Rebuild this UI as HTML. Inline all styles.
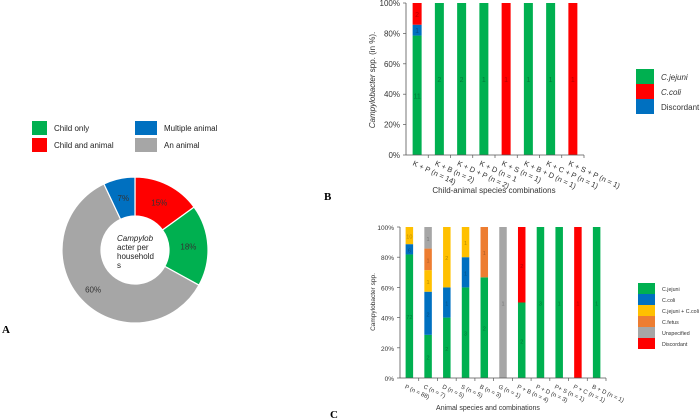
<!DOCTYPE html>
<html><head><meta charset="utf-8">
<style>
html,body{margin:0;padding:0;background:#fff;}
svg{display:block;font-family:"Liberation Sans",Arial,sans-serif;}
.lab{font-family:"Liberation Serif",serif;font-weight:bold;font-size:11px;}
</style></head>
<body>
<svg id="root" width="700" height="419" viewBox="0 0 700 419">
  <text class="lab" x="2" y="333">A</text>
  <text class="lab" x="324" y="200">B</text>
  <text class="lab" x="330" y="418">C</text>
  <g id="pie"></g>
  <g id="chartB"></g>
  <g id="chartC"></g>
</svg>
<script>
const NS="http://www.w3.org/2000/svg";
function mk(p,tag,attrs,txt){const e=document.createElementNS(NS,tag);for(const k in attrs)e.setAttribute(k,attrs[k]);if(txt!==undefined)e.textContent=txt;p.appendChild(e);return e;}

// ---------- Donut data ----------
const pieLabels=["Child and animal","Child only","An animal","Multiple animal"];
const pieValues=[15,18,60,7];
const pieColors=["#ff0000","#00b050","#a6a6a6","#0070c0"];

// ---------- Chart B data ----------
const bCategories=["K + P (n = 14)","K + B (n = 2)","K + D + P (n = 2)","K + D (n = 1","K + S (n = 1)","K + B + D (n = 1)","K + C + P (n = 1)","K + S + P (n = 1)"];
const bJejuni=[11,2,2,1,0,1,1,0];
const bDiscordant=[1,0,0,0,0,0,0,0];
const bColi=[2,0,0,0,1,0,0,1];
const bTicks=["0%","20%","40%","60%","80%","100%"];

// ---------- Chart C data ----------
const cCategories=["P (n = 88)","C (n = 7)","D (n = 5)","S (n = 5)","B (n = 3)","G (n = 1)","P + B (n = 4)","P + D (n = 3)","P+ S (n = 1)","P + C (n = 1)","B + D (n = 1)"];
const cJejuni=[72,2,2,3,2,0,2,3,1,0,1];
const cColi=[6,2,1,1,0,0,0,0,0,0,0];
const cBoth=[10,1,2,1,0,0,0,0,0,0,0];
const cFetus=[0,1,0,0,1,0,0,0,0,0,0];
const cUnspec=[0,1,0,0,0,1,0,0,0,0,0];
const cDiscord=[0,0,0,0,0,0,2,0,0,1,0];
const cTicks=["0%","20%","40%","60%","80%","100%"];

// ---------- Donut ----------
(function(){
  const g=document.getElementById('pie');
  const cx=135,cy=250,R=73,r=34;
  const total=pieValues.reduce((a,b)=>a+b,0);
  let a0=-Math.PI/2;
  pieValues.forEach((v,i)=>{
    const a1=a0+v/total*2*Math.PI;
    const la=(a1-a0)>Math.PI?1:0;
    const p=[cx+R*Math.cos(a0),cy+R*Math.sin(a0),cx+R*Math.cos(a1),cy+R*Math.sin(a1),cx+r*Math.cos(a1),cy+r*Math.sin(a1),cx+r*Math.cos(a0),cy+r*Math.sin(a0)];
    const s=mk(g,'path',{d:`M${p[0]},${p[1]}A${R},${R} 0 ${la} 1 ${p[2]},${p[3]}L${p[4]},${p[5]}A${r},${r} 0 ${la} 0 ${p[6]},${p[7]}Z`,fill:pieColors[i],stroke:'#fff','stroke-width':1.2});
    
    
    const am=(a0+a1)/2, rm=(R+r)/2+ (v>50?4:0);
    const t=mk(g,'text',{x:cx+rm*Math.cos(am),y:cy+rm*Math.sin(am)+3,'text-anchor':'middle','font-size':8,fill:'#333'},v+'%');
    
    
    a0=a1;
  });
  const ct=mk(g,'text',{'font-size':8,fill:'#222'});
  
  
  [["Campylob",true],["acter per",false],["household",false],["s",false]].forEach((l,i)=>{
    const ts=mk(ct,'tspan',{x:117,y:241+i*9},l[0]);
    if(l[1])ts.setAttribute('font-style','italic');
  });
  const legPos=[[32,138,54],[32,121,54],[135,138,164],[135,121,164]];
  pieLabels.forEach((l,i)=>{
    const q=legPos[i];
    const rc=mk(g,'rect',{x:q[0],y:q[1],width:i>=2?22:15,height:14,fill:pieColors[i]});
    
    
    const t=mk(g,'text',{x:q[2],y:q[1]+10,'font-size':8,fill:'#222'},l);
    
    
  });
})();

function stacked(gid,opt,cats,series,ticks){
  const g=document.getElementById(gid);
  const {x0,x1,y0,y1,bw,fs}=opt;
  const n=cats.length, step=(x1-x0)/n;
  const xs=i=>x0+step*(i+0.5);
  const ys=f=>y1-(y1-y0)*f;
  ticks.forEach((t,i)=>{
    const f=i/(ticks.length-1);
    const tl=mk(g,'text',{x:x0-6,y:ys(f)+3,'text-anchor':'end','font-size':fs,fill:'#333'},t);
    
    
    mk(g,'line',{x1:x0-3,x2:x0,y1:ys(f),y2:ys(f),stroke:'#555','stroke-width':0.7});
  });
  cats.forEach((c,i)=>{
    const tot=series.reduce((s,se)=>s+se.vals[i],0);
    let acc=0;
    series.forEach(se=>{
      const v=se.vals[i]; if(!v)return;
      const fa=acc/tot, fb=(acc+v)/tot;
      const b=mk(g,'rect',{x:xs(i)-bw/2,y:ys(fb),width:bw,height:ys(fa)-ys(fb),fill:se.color});
      
      
      const t=mk(g,'text',{x:xs(i),y:(ys(fa)+ys(fb))/2+3,'text-anchor':'middle','font-size':fs-1,fill:'rgba(0,0,0,0.3)'},v);
      
      
      acc+=v;
    });
    mk(g,'line',{x1:x0+step*(i+1),x2:x0+step*(i+1),y1:y1,y2:y1+3,stroke:'#555','stroke-width':0.7});
    const xl=mk(g,'text',{x:xs(i)-5,y:y1+10,'font-size':fs-0.5,fill:'#333',transform:`rotate(25 ${xs(i)-5} ${y1+10})`},c);
    
    
  });
  mk(g,'line',{x1:x0,x2:x0,y1:y0,y2:y1,stroke:'#555','stroke-width':0.8});
  mk(g,'line',{x1:x0,x2:x1,y1:y1,y2:y1,stroke:'#555','stroke-width':0.8});
}

stacked('chartB',{x0:406,x1:584,y0:3,y1:155,bw:9,fs:8},bCategories,
  [{vals:bJejuni,color:'#00b050'},{vals:bDiscordant,color:'#0070c0'},{vals:bColi,color:'#ff0000'}],bTicks);
stacked('chartC',{x0:400,x1:606,y0:227,y1:378,bw:7.5,fs:6.5},cCategories,
  [{vals:cJejuni,color:'#00b050'},{vals:cColi,color:'#0070c0'},{vals:cBoth,color:'#ffc000'},{vals:cFetus,color:'#ed7d31'},{vals:cUnspec,color:'#a6a6a6'},{vals:cDiscord,color:'#ff0000'}],cTicks);

(function(){
  const gb=document.getElementById('chartB');
  let t=mk(gb,'text',{x:375,y:80,'text-anchor':'middle','font-size':8,'font-style':'italic',fill:'#333',transform:'rotate(-90 375 80)'});
  
  
  mk(t,'tspan',{},'Campylobacter');
  mk(t,'tspan',{'font-style':'normal'},' spp. (in %).');
  t=mk(gb,'text',{x:494,y:193,'text-anchor':'middle','font-size':8,fill:'#333'},'Child-animal species combinations');
  
  
  const bl=[["C.jejuni","#00b050",true],["C.coli","#ff0000",true],["Discordant","#0070c0",false]];
  bl.forEach((l,i)=>{
    const r=mk(gb,'rect',{x:636,y:69+i*15,width:18,height:15,fill:l[1]});
    
    
    const tt=mk(gb,'text',{x:661,y:80+i*15,'font-size':8,fill:'#333','font-style':l[2]?'italic':'normal'},l[0]);
    
    
  });
  const gc=document.getElementById('chartC');
  t=mk(gc,'text',{x:375,y:302,'text-anchor':'middle','font-size':6.5,fill:'#333',transform:'rotate(-90 375 302)'},'Campylobacter spp.');
  
  
  t=mk(gc,'text',{x:488,y:410,'text-anchor':'middle','font-size':7,fill:'#333'},'Animal species and combinations');
  
  
  const cl=[["C.jejuni","#00b050"],["C.coli","#0070c0"],["C.jejuni + C.coli","#ffc000"],["C.fetus","#ed7d31"],["Unspecified","#a6a6a6"],[" Discordant","#ff0000"]];
  cl.forEach((l,i)=>{
    const r=mk(gc,'rect',{x:638,y:283+i*11,width:17,height:11,fill:l[1]});
    
    
    const tt=mk(gc,'text',{x:662,y:291+i*11,'font-size':5.3,fill:'#333'},l[0]);
    
    
  });
})();
</script>
</body></html>
